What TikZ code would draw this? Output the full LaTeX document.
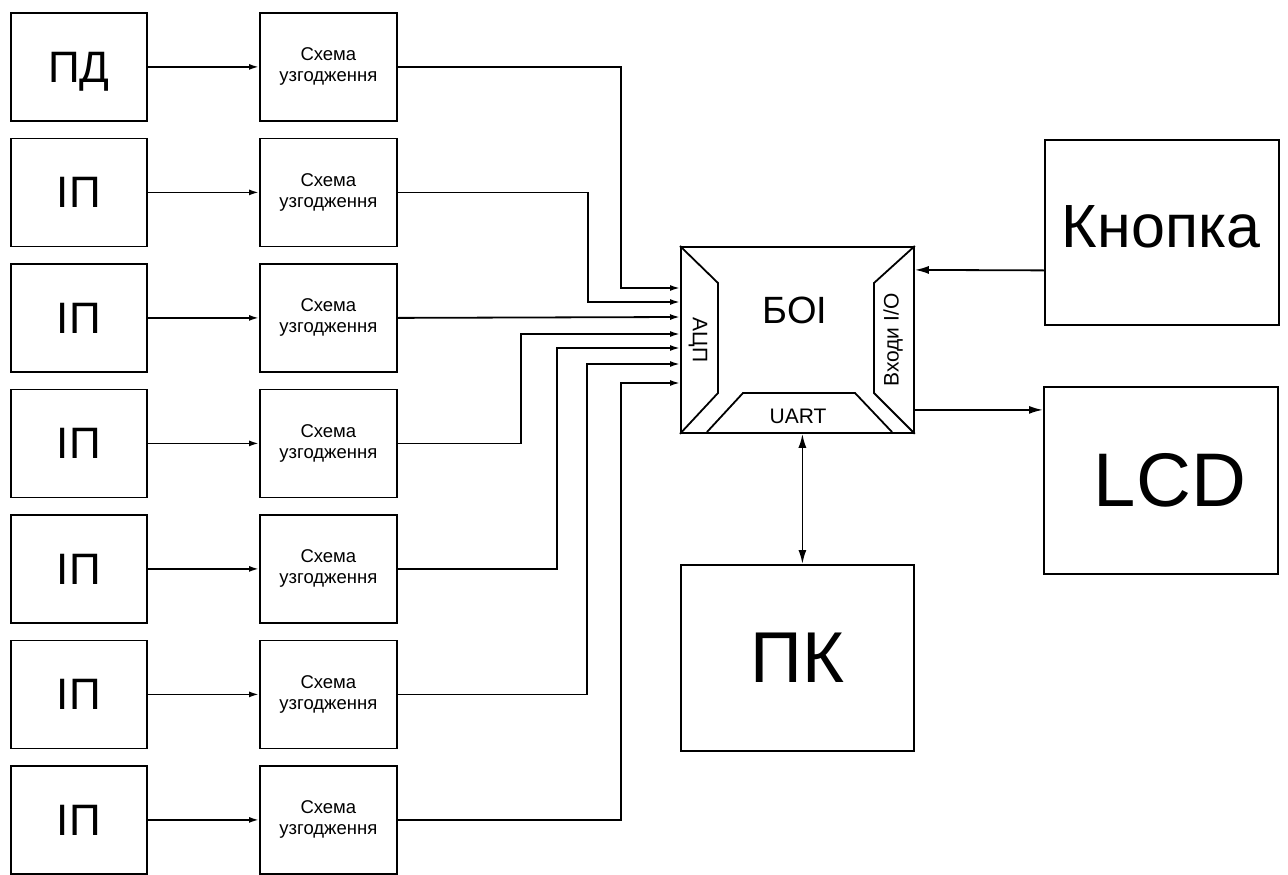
\documentclass[tikz,border=0pt]{standalone}
\usepackage{fontspec}
\setmainfont{Liberation Sans}
\usetikzlibrary{arrows.meta,calc}
\begin{document}
\begin{tikzpicture}[x=1pt,y=-1pt,
  box/.style={draw, line width=1.8pt, inner sep=0pt, anchor=north west},
  srcbox/.style={box, minimum width=136pt, minimum height=108pt, text depth=0pt, font=\fontsize{44}{48}\selectfont},
  matchbox/.style={box, minimum width=137pt, minimum height=108pt, align=center, font=\fontsize{18.5}{21}\selectfont},
  wire/.style={line width=1.8pt},
  arr/.style={wire, -{Latex[length=10pt,width=6pt]}},
  bigarr/.style={wire, -{Latex[length=14pt,width=8pt]}},
  dblarr/.style={wire, {Latex[length=14pt,width=8pt]}-{Latex[length=14pt,width=8pt]}},
  lbl/.style={inner sep=0pt, font=\fontsize{21}{24}\selectfont}]
\useasboundingbox (0,0) rectangle (1288,875);
% left column
\foreach \i/\t in {1/ПД,2/ІП,3/ІП,4/ІП,5/ІП,6/ІП,7/ІП}{
  \node[srcbox] (s\i) at (10,{12+125.5*(\i-1)}) {\t};
  \node[matchbox] (m\i) at (259,{12+125.5*(\i-1)}) {Схема\\узгодження};
  \draw[arr] (s\i.east) -- (m\i.west);
}
% central block
\node[box, minimum width=233pt, minimum height=186pt] (boi) at (680,246) {};
\draw[wire] (boi.north west) -- (718,283) -- (718,393) -- (boi.south west);
\draw[wire] (707,432) -- (743,393) -- (855,393) -- (892,432);
\draw[wire] (boi.north east) -- (874,283) -- (874,393) -- (boi.south east);
\node[inner sep=0pt, font=\fontsize{38}{40}\selectfont] (boit) at (795,310) {БОІ};
\node[lbl, rotate=-90] (adc) at (698,340) {АЦП};
\node[lbl, rotate=90] (io) at (893,340) {Входи I/O};
\node[lbl] (uart) at (798,416) {UART};
% inputs to ADC
\coordinate (in1) at (680,288);
\coordinate (in2) at (680,302);
\coordinate (in3) at (680,317);
\coordinate (in4) at (680,334);
\coordinate (in5) at (680,348);
\coordinate (in6) at (680,364);
\coordinate (in7) at (680,383);
\draw[arr] (m1.east) -| (621,288) -- (in1);
\draw[arr] (m2.east) -| (588,302) -- (in2);
\draw[arr] (m3.east) -- (in3);
\draw[arr] (m4.east) -| (521,334) -- (in4);
\draw[arr] (m5.east) -| (557,348) -- (in5);
\draw[arr] (m6.east) -| (587,364) -- (in6);
\draw[arr] (m7.east) -| (621,383) -- (in7);
% right side
\node[box, minimum width=234pt, minimum height=185pt] (knopka) at (1044,139) {};
\node[inner sep=0pt, font=\fontsize{61}{64}\selectfont] (knopkat) at (1161,227) {Кнопка};
\node[box, minimum width=234pt, minimum height=187pt] (lcd) at (1043,386) {};
\node[inner sep=0pt, font=\fontsize{76}{80}\selectfont] (lcdt) at (1170,480) {LCD};
\node[box, minimum width=233pt, minimum height=186pt, font=\fontsize{72}{76}\selectfont] (pk) at (680,564) {ПК};
\draw[bigarr] ($(knopka.west)+(0,38)$) -- ($(boi.east)+(0,-70)$);
\draw[bigarr] ($(boi.east)+(0,70)$) -- ($(lcd.west)+(0,-70.5)$);
\draw[dblarr] ($(boi.south)+(5,0)$) -- ($(pk.north)+(5,0)$);
\end{tikzpicture}
\end{document}
